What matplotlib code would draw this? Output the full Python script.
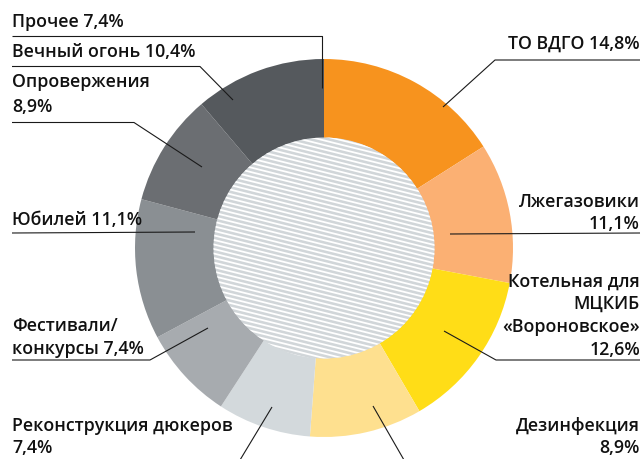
import numpy as np
import matplotlib
matplotlib.use("Agg")
import matplotlib.pyplot as plt
from matplotlib.patches import Circle

# ---- data -------------------------------------------------------------
categories = [
    "ТО ВДГО",
    "Лжегазовики",
    "Котельная для МЦКИБ «Вороновское»",
    "Дезинфекция",
    "Реконструкция дюкеров",
    "Фестивали/конкурсы",
    "Юбилей",
    "Опровержения",
    "Вечный огонь",
    "Прочее",
]
shares = [14.8, 11.1, 12.6, 8.9, 7.4, 7.4, 11.1, 8.9, 10.4, 7.4]
labels = [
    "ТО ВДГО 14,8%",
    "Лжегазовики\n11,1%",
    "Котельная для\nМЦКИБ\n«Вороновское»\n12,6%",
    "Дезинфекция\n8,9%",
    "Реконструкция дюкеров\n7,4%",
    "Фестивали/\nконкурсы 7,4%",
    "Юбилей 11,1%",
    "Опровержения\n8,9%",
    "Вечный огонь 10,4%",
    "Прочее 7,4%",
]
colors = ["#F7931E", "#FBB073", "#FFDD17", "#FEE08F", "#D3D9DC",
          "#A7ABAF", "#8A8F93", "#6B6E72", "#55595D"]

# ---- canvas in pixel units --------------------------------------------
W, H = 644, 459
fig = plt.figure(figsize=(W / 100, H / 100), dpi=100)
ax = fig.add_axes([0, 0, 1, 1])


def Y(y):
    return H - y


cx, cy = 324, Y(248)
R_out, R_in = 189, 110

# ring: the nine named items; "Прочее" is only called out at the top seam
ax.pie(shares[:-1], colors=colors, startangle=90, counterclock=False,
       radius=R_out, center=(cx, cy),
       wedgeprops=dict(width=R_out - R_in, edgecolor="none", linewidth=0))

# striped core
core = Circle((cx, cy), R_in + 0.5, facecolor="#D1D6D9", edgecolor="none", zorder=3)
ax.add_patch(core)
ang = np.deg2rad(-14)
d = np.array([np.cos(ang), np.sin(ang)])
n = np.array([-d[1], d[0]])
for s in np.arange(-R_in - 10, R_in + 10, 4.4):
    p0 = np.array([cx, cy]) + s * n - 200 * d
    p1 = np.array([cx, cy]) + s * n + 200 * d
    ln, = ax.plot([p0[0], p1[0]], [p0[1], p1[1]], color="white", lw=1.3,
                  solid_capstyle="butt", zorder=4)
    ln.set_clip_path(core)

# ---- callouts ---------------------------------------------------------
font = dict(family="Open Sans", weight="semibold", size=12.8, color="#111111")
lc = dict(color="#1a1a1a", lw=0.8, solid_capstyle="butt", zorder=6)


def put(lines, x, baselines, ha):
    for txt, b in zip(lines, baselines):
        ax.text(x, Y(b), txt, ha=ha, va="baseline", **font)


def leader(points):
    xs = [p[0] for p in points]
    ys = [Y(p[1]) for p in points]
    ax.plot(xs, ys, **lc)


# left column
put(labels[9].split("\n"), 12, [27], "left")
leader([(12, 35.5), (322, 35.5), (322, 88)])

put(labels[8].split("\n"), 12, [57], "left")
leader([(12, 66.5), (200, 66.5), (233, 100)])

put(labels[7].split("\n"), 12, [87, 112], "left")
leader([(12, 122.5), (134, 122.5), (202, 167)])

put(labels[6].split("\n"), 12, [225], "left")
leader([(12, 233), (195, 232)])

put(labels[5].split("\n"), 12, [331, 354], "left")
leader([(12, 360), (150, 360), (208, 328)])

put(labels[4].split("\n"), 12, [431, 453], "left")
leader([(240, 460), (272, 407)])

# right column
put(labels[0].split("\n"), 640, [49], "right")
leader([(640, 60), (495, 60), (443, 107)])

put(labels[1].split("\n"), 640, [207, 229], "right")
leader([(640, 233), (450, 234)])

put(labels[2].split("\n"), 640, [287, 309, 332, 355], "right")
leader([(640, 360), (496, 360), (444, 331)])

put(labels[3].split("\n"), 640, [431, 453], "right")
leader([(404, 460), (373, 406)])

ax.set_xlim(0, W)
ax.set_ylim(0, H)
ax.set_aspect("auto")
ax.axis("off")
fig.savefig("out.png", dpi=100, facecolor="white")
